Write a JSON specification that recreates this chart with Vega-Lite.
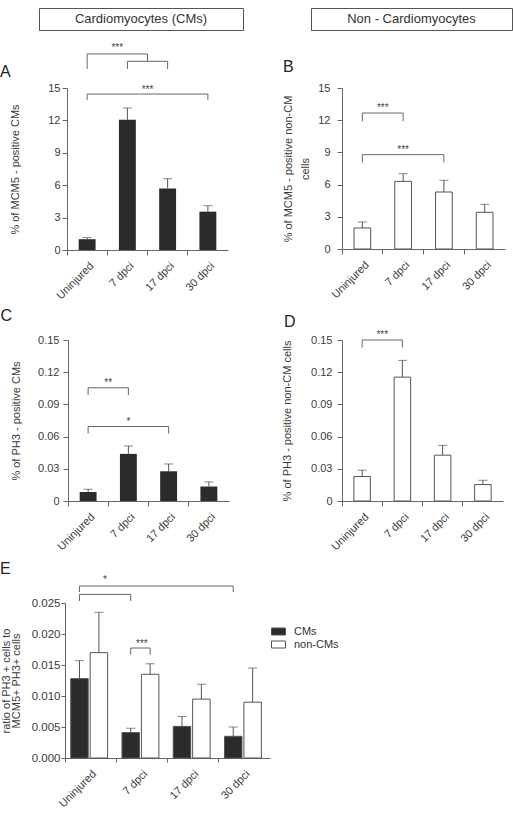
{
  "$schema": "https://vega.github.io/schema/vega-lite/v6.json",
  "padding": {"left": 0, "top": 7, "right": 0, "bottom": 0},
  "config": {
    "font": "Liberation Sans",
    "view": {"stroke": null},
    "axis": {"domainColor": "#666", "tickColor": "#666", "labelColor": "#3a3a3a", "titleColor": "#3a3a3a", "labelFontSize": 11, "titleFontSize": 11, "titleFontWeight": "normal", "grid": false, "tickSize": 5, "labelOverlap": false},
    "title": {"fontSize": 16, "fontWeight": "normal", "anchor": "start", "color": "#222", "offset": 0, "baseline": "alphabetic", "frame": "group"}
  },
  "spacing": 12,
  "vconcat": [
    {
      "bounds": "flush",
      "spacing": 68,
      "hconcat": [
        {"width": 204, "height": 22, "data": {"values": [{"t": "Cardiomyocytes (CMs)"}]}, "mark": {"type": "text", "fontSize": 13, "color": "#333", "baseline": "middle"}, "encoding": {"text": {"field": "t"}}, "view": {"stroke": "#555", "strokeWidth": 1}},
        {"width": 201, "height": 22, "data": {"values": [{"t": "Non - Cardiomyocytes"}]}, "mark": {"type": "text", "fontSize": 13, "color": "#333", "baseline": "middle"}, "encoding": {"text": {"field": "t"}}, "view": {"stroke": "#555", "strokeWidth": 1}}
      ]
    },
    {
      "spacing": 6,
      "vconcat": [
        {
          "bounds": "flush",
          "spacing": 0,
          "hconcat": [
            {"width": 28, "height": 1, "data": {"values": [{"t": ""}]}, "mark": {"type": "text"}, "encoding": {"text": {"field": "t"}}},
            {
              "width": 161, "height": 162,
              "title": {"text": "A", "dx": -67, "dy": 41},
              "data": {"values": [
                {"group": "Uninjured", "value": 1.0, "err": 1.15},
                {"group": "7 dpci", "value": 12.05, "err": 13.15},
                {"group": "17 dpci", "value": 5.7, "err": 6.6},
                {"group": "30 dpci", "value": 3.55, "err": 4.1}
              ]},
              "layer": [
                {"mark": {"type": "bar", "width": {"band": 0.42}, "fill": "#2b2b2b"},
                 "encoding": {
                   "x": {"field": "group", "type": "nominal", "scale": {"domain": ["Uninjured", "7 dpci", "17 dpci", "30 dpci"], "paddingInner": 0, "paddingOuter": 0}, "axis": {"title": null, "labelAngle": -45, "labelAlign": "right", "labelBaseline": "middle", "bandPosition": 0, "labelOffset": 5, "labelPadding": 9}},
                   "y": {"field": "value", "type": "quantitative", "scale": {"domain": [0, 15], "nice": false}, "axis": {"values": [0, 3, 6, 9, 12, 15], "labelOverlap": false, "tickCount": 6, "title": "% of MCM5 - positive  CMs", "titlePadding": 27, "labelPadding": 2}}
                 }},
                {"mark": {"type": "rule", "color": "#555"},
                 "encoding": {"x": {"field": "group", "type": "nominal"}, "y": {"field": "value", "type": "quantitative"}, "y2": {"field": "err"}}},
                {"mark": {"type": "tick", "color": "#555", "size": 9, "thickness": 1},
                 "encoding": {"x": {"field": "group", "type": "nominal"}, "y": {"field": "err", "type": "quantitative"}}},
                {"data": {"values": [{"from": "7 dpci", "to": "17 dpci", "y": 17.47}, {"from": "Uninjured", "to": "30 dpci", "y": 14.44}]},
                 "mark": {"type": "rule", "color": "#666"},
                 "encoding": {"x": {"field": "from", "type": "nominal"}, "x2": {"field": "to"}, "y": {"field": "y", "type": "quantitative"}}},
                {"data": {"values": [{"from": "Uninjured", "to": "17 dpci", "y": 18.15}]},
                 "mark": {"type": "rule", "color": "#666"},
                 "encoding": {"x": {"field": "from", "type": "nominal"}, "x2": {"field": "to", "bandPosition": 0}, "y": {"field": "y", "type": "quantitative"}}},
                {"data": {"values": [
                   {"at": "Uninjured", "top": 18.15, "bottom": 16.76},
                   {"at": "7 dpci", "top": 17.47, "bottom": 16.76},
                   {"at": "17 dpci", "top": 17.47, "bottom": 16.76},
                   {"at": "Uninjured", "top": 14.44, "bottom": 13.9},
                   {"at": "30 dpci", "top": 14.44, "bottom": 13.9}
                 ]},
                 "mark": {"type": "rule", "color": "#666"},
                 "encoding": {"x": {"field": "at", "type": "nominal"}, "y": {"field": "top", "type": "quantitative"}, "y2": {"field": "bottom"}}},
                {"data": {"values": [{"at": "17 dpci", "top": 18.15, "bottom": 17.47}]},
                 "mark": {"type": "rule", "color": "#666"},
                 "encoding": {"x": {"field": "at", "type": "nominal", "bandPosition": 0}, "y": {"field": "top", "type": "quantitative"}, "y2": {"field": "bottom"}}},
                {"data": {"values": [{"label": "***", "at": "7 dpci", "y": 18.4}]},
                 "mark": {"type": "text", "fontSize": 10, "color": "#444", "baseline": "alphabetic"},
                 "encoding": {"x": {"field": "at", "type": "nominal", "bandPosition": 0.25}, "y": {"field": "y", "type": "quantitative"}, "text": {"field": "label"}}},
                {"data": {"values": [{"label": "***", "at": "17 dpci", "y": 14.56}]},
                 "mark": {"type": "text", "fontSize": 10, "color": "#444", "baseline": "alphabetic"},
                 "encoding": {"x": {"field": "at", "type": "nominal", "bandPosition": 0}, "y": {"field": "y", "type": "quantitative"}, "text": {"field": "label"}}}
              ]
            },
            {"width": 114, "height": 1, "data": {"values": [{"t": ""}]}, "mark": {"type": "text"}, "encoding": {"text": {"field": "t"}}},
            {
              "width": 163, "height": 161,
              "title": {"text": "B", "dx": -59, "dy": -2.7},
              "data": {"values": [
                {"group": "Uninjured", "value": 1.96, "err": 2.52},
                {"group": "7 dpci", "value": 6.3, "err": 7.02},
                {"group": "17 dpci", "value": 5.31, "err": 6.4},
                {"group": "30 dpci", "value": 3.42, "err": 4.16}
              ]},
              "layer": [
                {"mark": {"type": "bar", "width": {"band": 0.41}, "fill": "#ffffff", "stroke": "#555", "strokeWidth": 1},
                 "encoding": {
                   "x": {"field": "group", "type": "nominal", "scale": {"domain": ["Uninjured", "7 dpci", "17 dpci", "30 dpci"], "paddingInner": 0, "paddingOuter": 0}, "axis": {"title": null, "labelAngle": -45, "labelAlign": "right", "labelBaseline": "middle", "bandPosition": 0, "labelOffset": 5, "labelPadding": 9}},
                   "y": {"field": "value", "type": "quantitative", "scale": {"domain": [0, 15], "nice": false}, "axis": {"values": [0, 3, 6, 9, 12, 15], "labelOverlap": false, "tickCount": 6, "title": ["% of MCM5 - positive  non-CM", "cells"], "titleLineHeight": 17, "titlePadding": 7, "labelPadding": 7}}
                 }},
                {"mark": {"type": "rule", "color": "#555"},
                 "encoding": {"x": {"field": "group", "type": "nominal"}, "y": {"field": "value", "type": "quantitative"}, "y2": {"field": "err"}}},
                {"mark": {"type": "tick", "color": "#555", "size": 9, "thickness": 1},
                 "encoding": {"x": {"field": "group", "type": "nominal"}, "y": {"field": "err", "type": "quantitative"}}},
                {"data": {"values": [{"from": "Uninjured", "to": "7 dpci", "y": 12.67}, {"from": "Uninjured", "to": "17 dpci", "y": 8.79}]},
                 "mark": {"type": "rule", "color": "#666"},
                 "encoding": {"x": {"field": "from", "type": "nominal"}, "x2": {"field": "to"}, "y": {"field": "y", "type": "quantitative"}}},
                {"data": {"values": [
                   {"at": "Uninjured", "top": 12.67, "bottom": 11.9},
                   {"at": "7 dpci", "top": 12.67, "bottom": 11.9},
                   {"at": "Uninjured", "top": 8.79, "bottom": 8.07},
                   {"at": "17 dpci", "top": 8.79, "bottom": 8.07}
                 ]},
                 "mark": {"type": "rule", "color": "#666"},
                 "encoding": {"x": {"field": "at", "type": "nominal"}, "y": {"field": "top", "type": "quantitative"}, "y2": {"field": "bottom"}}},
                {"data": {"values": [{"label": "***", "at": "7 dpci", "y": 12.82}]},
                 "mark": {"type": "text", "fontSize": 10, "color": "#444", "baseline": "alphabetic"},
                 "encoding": {"x": {"field": "at", "type": "nominal", "bandPosition": 0}, "y": {"field": "y", "type": "quantitative"}, "text": {"field": "label"}}},
                {"data": {"values": [{"label": "***", "at": "7 dpci", "y": 8.93}]},
                 "mark": {"type": "text", "fontSize": 10, "color": "#444", "baseline": "alphabetic"},
                 "encoding": {"x": {"field": "at", "type": "nominal"}, "y": {"field": "y", "type": "quantitative"}, "text": {"field": "label"}}}
              ]
            }
          ]
        },
        {
          "spacing": 9,
          "resolve": {"legend": {"fill": "independent"}},
          "vconcat": [
            {
              "bounds": "flush",
              "spacing": 0,
              "hconcat": [
                {"width": 28.5, "height": 1, "data": {"values": [{"t": ""}]}, "mark": {"type": "text"}, "encoding": {"text": {"field": "t"}}},
                {
                  "width": 161, "height": 161,
                  "title": {"text": "C", "dx": -67.5, "dy": -6.5},
                  "data": {"values": [
                    {"group": "Uninjured", "value": 0.0084, "err": 0.0109},
                    {"group": "7 dpci", "value": 0.0439, "err": 0.0513},
                    {"group": "17 dpci", "value": 0.0277, "err": 0.0345},
                    {"group": "30 dpci", "value": 0.0135, "err": 0.0178}
                  ]},
                  "layer": [
                    {"mark": {"type": "bar", "width": {"band": 0.42}, "fill": "#2b2b2b"},
                     "encoding": {
                       "x": {"field": "group", "type": "nominal", "scale": {"domain": ["Uninjured", "7 dpci", "17 dpci", "30 dpci"], "paddingInner": 0, "paddingOuter": 0}, "axis": {"title": null, "labelAngle": -45, "labelAlign": "right", "labelBaseline": "middle", "bandPosition": 0, "labelOffset": 5, "labelPadding": 9}},
                       "y": {"field": "value", "type": "quantitative", "scale": {"domain": [0, 0.15], "nice": false}, "axis": {"values": [0, 0.03, 0.06, 0.09, 0.12, 0.15], "labelOverlap": false, "tickCount": 6, "format": ".2~f", "title": "% of PH3 - positive  CMs", "titlePadding": 16.5, "labelPadding": 4}}
                     }},
                    {"mark": {"type": "rule", "color": "#555"},
                     "encoding": {"x": {"field": "group", "type": "nominal"}, "y": {"field": "value", "type": "quantitative"}, "y2": {"field": "err"}}},
                    {"mark": {"type": "tick", "color": "#555", "size": 9, "thickness": 1},
                     "encoding": {"x": {"field": "group", "type": "nominal"}, "y": {"field": "err", "type": "quantitative"}}},
                    {"data": {"values": [{"from": "Uninjured", "to": "7 dpci", "y": 0.1055}, {"from": "Uninjured", "to": "17 dpci", "y": 0.0694}]},
                     "mark": {"type": "rule", "color": "#666"},
                     "encoding": {"x": {"field": "from", "type": "nominal"}, "x2": {"field": "to"}, "y": {"field": "y", "type": "quantitative"}}},
                    {"data": {"values": [
                       {"at": "Uninjured", "top": 0.1055, "bottom": 0.0987},
                       {"at": "7 dpci", "top": 0.1055, "bottom": 0.0987},
                       {"at": "Uninjured", "top": 0.0694, "bottom": 0.0628},
                       {"at": "17 dpci", "top": 0.0694, "bottom": 0.0628}
                     ]},
                     "mark": {"type": "rule", "color": "#666"},
                     "encoding": {"x": {"field": "at", "type": "nominal"}, "y": {"field": "top", "type": "quantitative"}, "y2": {"field": "bottom"}}},
                    {"data": {"values": [{"label": "**", "at": "7 dpci", "y": 0.1067}]},
                     "mark": {"type": "text", "fontSize": 10, "color": "#444", "baseline": "alphabetic"},
                     "encoding": {"x": {"field": "at", "type": "nominal", "bandPosition": 0}, "y": {"field": "y", "type": "quantitative"}, "text": {"field": "label"}}},
                    {"data": {"values": [{"label": "*", "at": "7 dpci", "y": 0.071}]},
                     "mark": {"type": "text", "fontSize": 10, "color": "#444", "baseline": "alphabetic"},
                     "encoding": {"x": {"field": "at", "type": "nominal"}, "y": {"field": "y", "type": "quantitative"}, "text": {"field": "label"}}}
                  ]
                },
                {"width": 113, "height": 1, "data": {"values": [{"t": ""}]}, "mark": {"type": "text"}, "encoding": {"text": {"field": "t"}}},
                {
                  "width": 161, "height": 161,
                  "title": {"text": "D", "dx": -58, "dy": 3.4},
                  "data": {"values": [
                    {"group": "Uninjured", "value": 0.0228, "err": 0.0287},
                    {"group": "7 dpci", "value": 0.1154, "err": 0.131},
                    {"group": "17 dpci", "value": 0.0427, "err": 0.0518},
                    {"group": "30 dpci", "value": 0.0153, "err": 0.0193}
                  ]},
                  "layer": [
                    {"mark": {"type": "bar", "width": {"band": 0.41}, "fill": "#ffffff", "stroke": "#555", "strokeWidth": 1},
                     "encoding": {
                       "x": {"field": "group", "type": "nominal", "scale": {"domain": ["Uninjured", "7 dpci", "17 dpci", "30 dpci"], "paddingInner": 0, "paddingOuter": 0}, "axis": {"title": null, "labelAngle": -45, "labelAlign": "right", "labelBaseline": "middle", "bandPosition": 0, "labelOffset": 5, "labelPadding": 9}},
                       "y": {"field": "value", "type": "quantitative", "scale": {"domain": [0, 0.15], "nice": false}, "axis": {"values": [0, 0.03, 0.06, 0.09, 0.12, 0.15], "labelOverlap": false, "tickCount": 6, "format": ".2~f", "title": "% of PH3 - positive non-CM cells", "titlePadding": 18, "labelPadding": 5}}
                     }},
                    {"mark": {"type": "rule", "color": "#555"},
                     "encoding": {"x": {"field": "group", "type": "nominal"}, "y": {"field": "value", "type": "quantitative"}, "y2": {"field": "err"}}},
                    {"mark": {"type": "tick", "color": "#555", "size": 9, "thickness": 1},
                     "encoding": {"x": {"field": "group", "type": "nominal"}, "y": {"field": "err", "type": "quantitative"}}},
                    {"data": {"values": [{"from": "Uninjured", "to": "7 dpci", "y": 0.15}]},
                     "mark": {"type": "rule", "color": "#666"},
                     "encoding": {"x": {"field": "from", "type": "nominal"}, "x2": {"field": "to"}, "y": {"field": "y", "type": "quantitative"}}},
                    {"data": {"values": [
                       {"at": "Uninjured", "top": 0.15, "bottom": 0.143},
                       {"at": "7 dpci", "top": 0.15, "bottom": 0.143}
                     ]},
                     "mark": {"type": "rule", "color": "#666"},
                     "encoding": {"x": {"field": "at", "type": "nominal"}, "y": {"field": "top", "type": "quantitative"}, "y2": {"field": "bottom"}}},
                    {"data": {"values": [{"label": "***", "at": "7 dpci", "y": 0.1515}]},
                     "mark": {"type": "text", "fontSize": 10, "color": "#444", "baseline": "alphabetic"},
                     "encoding": {"x": {"field": "at", "type": "nominal", "bandPosition": 0}, "y": {"field": "y", "type": "quantitative"}, "text": {"field": "label"}}}
                  ]
                }
              ]
            },
            {
              "bounds": "flush",
              "spacing": 0,
              "resolve": {"legend": {"fill": "independent"}},
              "hconcat": [
                {"width": 26, "height": 1, "data": {"values": [{"t": ""}]}, "mark": {"type": "text"}, "encoding": {"text": {"field": "t"}}},
                {
                  "width": 205, "height": 155,
                  "title": {"text": "E", "dx": -65, "dy": 6},
                  "data": {"values": [
                    {"group": "Uninjured", "series": "CMs", "value": 0.0128, "err": 0.0157},
                    {"group": "Uninjured", "series": "non-CMs", "value": 0.017, "err": 0.0235},
                    {"group": "7 dpci", "series": "CMs", "value": 0.0041, "err": 0.0048},
                    {"group": "7 dpci", "series": "non-CMs", "value": 0.0135, "err": 0.0152},
                    {"group": "17 dpci", "series": "CMs", "value": 0.0051, "err": 0.0067},
                    {"group": "17 dpci", "series": "non-CMs", "value": 0.0095, "err": 0.0119},
                    {"group": "30 dpci", "series": "CMs", "value": 0.0035, "err": 0.005},
                    {"group": "30 dpci", "series": "non-CMs", "value": 0.009, "err": 0.0145}
                  ]},
                  "layer": [
                    {"mark": {"type": "bar", "stroke": "#555", "strokeWidth": 1},
                     "encoding": {
                       "x": {"field": "group", "type": "nominal", "scale": {"domain": ["Uninjured", "7 dpci", "17 dpci", "30 dpci"], "paddingInner": 0, "paddingOuter": 0}, "axis": {"title": null, "labelAngle": -45, "labelAlign": "right", "labelBaseline": "middle", "bandPosition": 0, "labelOffset": 4, "labelPadding": 10, "tickSize": 4}},
                       "xOffset": {"field": "series", "type": "nominal", "scale": {"domain": ["CMs", "non-CMs"], "paddingInner": 0.1, "paddingOuter": 0.37, "align": 0.4}},
                       "y": {"field": "value", "type": "quantitative", "scale": {"domain": [0, 0.025], "nice": false}, "axis": {"values": [0, 0.005, 0.01, 0.015, 0.02, 0.025], "labelOverlap": false, "tickCount": 6, "format": ".3f", "labelFontSize": 11.5, "tickSize": 4, "title": ["ratio of PH3 + cells to", "MCM5+ PH3+ cells"], "titleLineHeight": 10, "titlePadding": 10, "labelPadding": 1}},
                       "fill": {"field": "series", "type": "nominal", "scale": {"domain": ["CMs", "non-CMs"], "range": ["#2b2b2b", "#ffffff"]},
                         "legend": {"title": null, "orient": "none", "legendX": 206, "legendY": 21, "symbolType": "M-1,-0.5H1V0.5H-1Z", "symbolSize": 196, "symbolStrokeColor": "#555", "symbolStrokeWidth": 1, "labelFontSize": 11, "labelColor": "#333", "labelOffset": 8, "rowPadding": -2, "padding": 0}}
                     }},
                    {"mark": {"type": "rule", "color": "#555"},
                     "encoding": {"x": {"field": "group", "type": "nominal"}, "xOffset": {"field": "series", "type": "nominal"}, "y": {"field": "value", "type": "quantitative"}, "y2": {"field": "err"}}},
                    {"mark": {"type": "tick", "color": "#555", "size": 9, "thickness": 1},
                     "encoding": {"x": {"field": "group", "type": "nominal"}, "xOffset": {"field": "series", "type": "nominal"}, "y": {"field": "err", "type": "quantitative"}}},
                    {"data": {"values": [{"from": "Uninjured", "to": "30 dpci", "y": 0.02774}, {"from": "Uninjured", "to": "7 dpci", "y": 0.02639}]},
                     "mark": {"type": "rule", "color": "#666"},
                     "encoding": {"x": {"field": "from", "type": "nominal", "bandPosition": 0.283}, "x2": {"field": "to", "bandPosition": 0.283}, "y": {"field": "y", "type": "quantitative"}}},
                    {"data": {"values": [{"from": "7 dpci", "to": "7 dpci", "y": 0.01774}]},
                     "mark": {"type": "rule", "color": "#666"},
                     "encoding": {"x": {"field": "from", "type": "nominal", "bandPosition": 0.283}, "x2": {"field": "to", "bandPosition": 0.661}, "y": {"field": "y", "type": "quantitative"}}},
                    {"data": {"values": [
                       {"group": "Uninjured", "series": "CMs", "top": 0.02774, "bottom": 0.02677},
                       {"group": "30 dpci", "series": "CMs", "top": 0.02774, "bottom": 0.02677},
                       {"group": "Uninjured", "series": "CMs", "top": 0.02639, "bottom": 0.02532},
                       {"group": "7 dpci", "series": "CMs", "top": 0.02639, "bottom": 0.02532},
                       {"group": "7 dpci", "series": "CMs", "top": 0.01774, "bottom": 0.01666},
                       {"group": "7 dpci", "series": "non-CMs", "top": 0.01774, "bottom": 0.01666}
                     ]},
                     "mark": {"type": "rule", "color": "#666"},
                     "encoding": {"x": {"field": "group", "type": "nominal"}, "xOffset": {"field": "series", "type": "nominal"}, "y": {"field": "top", "type": "quantitative"}, "y2": {"field": "bottom"}}},
                    {"data": {"values": [{"label": "*", "at": "Uninjured", "y": 0.02815}]},
                     "mark": {"type": "text", "fontSize": 10, "color": "#444", "baseline": "alphabetic"},
                     "encoding": {"x": {"field": "at", "type": "nominal", "bandPosition": 0.78}, "y": {"field": "y", "type": "quantitative"}, "text": {"field": "label"}}},
                    {"data": {"values": [{"label": "***", "at": "7 dpci", "y": 0.01787}]},
                     "mark": {"type": "text", "fontSize": 10, "color": "#444", "baseline": "alphabetic"},
                     "encoding": {"x": {"field": "at", "type": "nominal"}, "y": {"field": "y", "type": "quantitative"}, "text": {"field": "label"}}}
                  ]
                }
              ]
            }
          ]
        }
      ]
    }
  ]
}
